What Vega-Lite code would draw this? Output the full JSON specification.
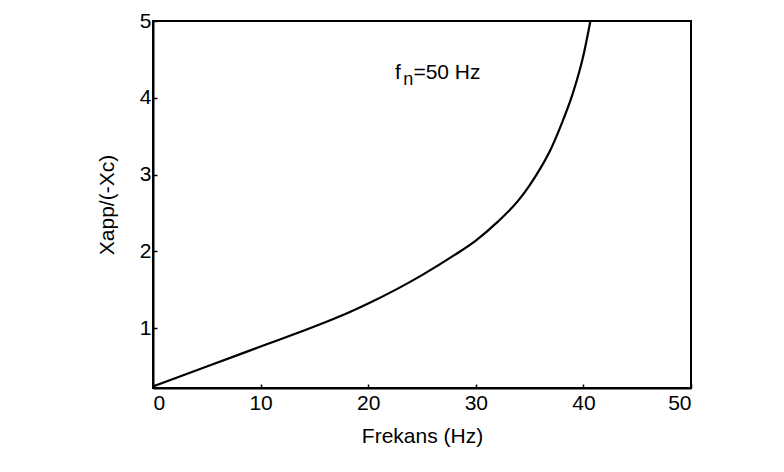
{
  "$schema": "https://vega.github.io/schema/vega-lite/v6.json",
  "width": 538,
  "height": 367,
  "autosize": {"type": "none"},
  "padding": {"left": 153, "top": 21, "right": 93, "bottom": 84},
  "background": "white",
  "config": {
    "view": {"stroke": "black", "strokeWidth": 2},
    "font": "Liberation Sans",
    "axis": {
      "domainColor": "black",
      "domainWidth": 2,
      "tickColor": "black",
      "tickWidth": 1.5,
      "tickSize": -4,
      "grid": false,
      "labelFont": "Liberation Sans",
      "labelFontSize": 21,
      "labelColor": "black",
      "titleFont": "Liberation Sans",
      "titleFontSize": 21,
      "titleFontWeight": "normal",
      "titleColor": "black"
    }
  },
  "layer": [
    {
      "data": {
        "values": [
          {"f": 0, "x": 0.24},
          {"f": 5, "x": 0.5},
          {"f": 10, "x": 0.76},
          {"f": 15, "x": 1.02},
          {"f": 18.3, "x": 1.21},
          {"f": 20, "x": 1.32},
          {"f": 25, "x": 1.69},
          {"f": 28, "x": 1.95},
          {"f": 30, "x": 2.14},
          {"f": 32, "x": 2.38},
          {"f": 34, "x": 2.67},
          {"f": 35, "x": 2.86},
          {"f": 36, "x": 3.08},
          {"f": 37, "x": 3.34},
          {"f": 38, "x": 3.67},
          {"f": 39, "x": 4.05},
          {"f": 40, "x": 4.55},
          {"f": 40.65, "x": 5.0}
        ]
      },
      "mark": {"type": "line", "color": "black", "strokeWidth": 2.2, "interpolate": "monotone", "clip": true},
      "encoding": {
        "x": {
          "field": "f",
          "type": "quantitative",
          "scale": {"domain": [0, 50], "nice": false},
          "axis": {"values": [0, 10, 20, 30, 40, 50], "format": "d", "title": "Frekans (Hz)", "labelPadding": 8, "titlePadding": 12}
        },
        "y": {
          "field": "x",
          "type": "quantitative",
          "scale": {"domain": [0.22, 5], "nice": false, "zero": false},
          "axis": {"values": [1, 2, 3, 4, 5], "format": "d", "title": "Xapp/(-Xc)", "labelPadding": 6, "titlePadding": 22}
        }
      }
    },
    {
      "data": {"values": [{"label": "fn"}]},
      "mark": {"type": "text", "text": "f", "fontSize": 21, "fontWeight": "normal", "color": "black", "align": "left", "baseline": "alphabetic", "font": "Liberation Sans"},
      "encoding": {"x": {"datum": 22.5}, "y": {"datum": 4.25}}
    },
    {
      "data": {"values": [{"label": "fn"}]},
      "mark": {"type": "text", "text": "n", "fontSize": 18, "fontWeight": "normal", "color": "black", "align": "left", "baseline": "alphabetic", "font": "Liberation Sans"},
      "encoding": {"x": {"datum": 23.25}, "y": {"datum": 4.17}}
    },
    {
      "data": {"values": [{"label": "fn"}]},
      "mark": {"type": "text", "text": "=50 Hz", "fontSize": 21, "fontWeight": "normal", "color": "black", "align": "left", "baseline": "alphabetic", "font": "Liberation Sans"},
      "encoding": {"x": {"datum": 24.2}, "y": {"datum": 4.25}}
    }
  ]
}
